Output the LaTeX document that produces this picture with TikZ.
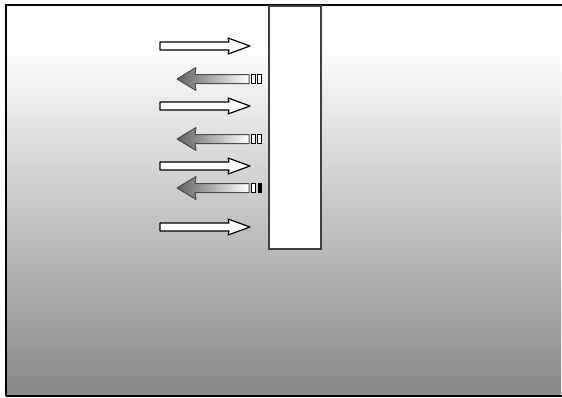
\documentclass[tikz,border=0pt]{standalone}
\pgfdeclareverticalshading{bgshade}{100bp}{color(0bp)=(black!47); color(25bp)=(black!47); color(70bp)=(white); color(100bp)=(white)}
\begin{document}
\begin{tikzpicture}[x=1pt,y=-1pt,
  framebox/.style={draw=black, line width=1.5pt},
  wall/.style={draw=black!75, line width=1.8pt, fill=white},
  rarrow/.style={draw=black, line width=1.2pt, fill=white, line join=round},
  larrow/.style={draw=black!70, line width=1pt, left color=black!62, right color=white, line join=round},
  barw/.style={draw=black, line width=1pt, fill=white},
  barb/.style={draw=black, line width=1pt, fill=black}]
\useasboundingbox (0,0) rectangle (562,397);
\fill[white] (0,0) rectangle (562,397);
\shade[shading=bgshade] (6,5) rectangle (561,396);
\draw[framebox] (6,396) -- (6,5) -- (562,5);
\draw[framebox] (6,396) -- (562,396);
% wall
\node[wall, minimum width=52pt, minimum height=243pt, inner sep=0pt, anchor=north west] (wall) at (268,5) {};
% right-pointing arrows
\foreach \c/\n in {46/r1,106/r2,166/r3,227/r4}{
  \draw[rarrow] (160,\c-4) -- (229,\c-4) -- (228,\c-8) -- (250,\c) -- (228,\c+8) -- (229,\c+4) -- (160,\c+4) -- cycle;
  \coordinate (\n) at (250,\c);
}
% left-pointing arrows
\foreach \c/\n in {79/l1,139/l2,188/l3}{
  \draw[larrow] (249,\c-4.5) -- (195,\c-4.5) -- (196,\c-11.5) -- (177,\c) -- (196,\c+11.5) -- (195,\c+4.5) -- (249,\c+4.5) -- cycle;
  \coordinate (\n) at (177,\c);
}
\draw[barw] (251.5,79-4.5) rectangle (255.5,79+4.5);
\draw[barw] (257.5,79-4.5) rectangle (261.5,79+4.5);
\draw[barw] (251.5,139-4.5) rectangle (255.5,139+4.5);
\draw[barw] (257.5,139-4.5) rectangle (261.5,139+4.5);
\draw[barw] (251.5,188-4.5) rectangle (255.5,188+4.5);
\draw[barb] (258,188-4.5) rectangle (261,188+4.5);
\end{tikzpicture}
\end{document}
